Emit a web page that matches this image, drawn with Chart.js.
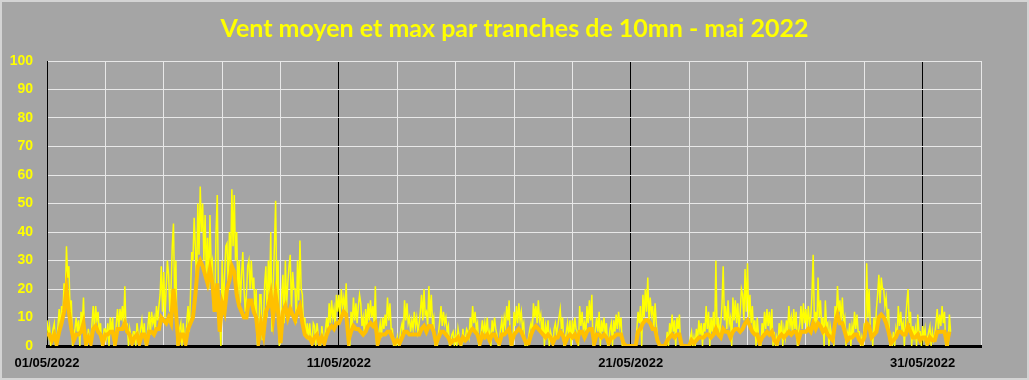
<!DOCTYPE html>
<html>
<head>
<meta charset="utf-8">
<script src="https://cdn.jsdelivr.net/npm/chart.js@4.4.0/dist/chart.umd.min.js"></script>
<style>
html,body{margin:0;padding:0;background:#A5A5A5;}
#wrap{width:1029px;height:380px;position:relative;}
</style>
</head>
<body>
<div id="wrap"><canvas id="c" width="1029" height="380"></canvas></div>
<script>
const chartTitle = "Vent moyen et max par tranches de 10mn - mai 2022";
const xTickLabels = ["01/05/2022", "11/05/2022", "21/05/2022", "31/05/2022"];
const maxPerDay = 24;  // max wind: one reading per hour
const meanPerDay = 12; // mean wind: one reading every 2 hours
// Vent max (one row per day, hourly)
const maxWind = [
  9,4,7,0,3,6,8,0,2,7,13,6,14,10,22,15,35,24,28,12,16,0,3,6,
  10,5,9,0,12,7,17,3,2,0,6,2,1,8,14,6,14,9,12,4,8,0,2,6,
  6,3,8,0,10,5,10,0,2,8,13,6,13,9,14,7,21,5,8,0,6,3,2,5,
  5,0,8,4,2,6,9,3,8,0,2,7,12,4,12,8,10,5,14,9,14,18,28,12,
  26,10,20,30,25,12,20,35,43,15,30,0,2,6,8,0,8,3,1,9,14,5,18,33,
  30,45,35,20,50,32,56,40,50,30,46,25,38,20,46,28,30,12,15,40,53,18,10,0,
  30,14,24,35,36,20,40,28,55,35,53,30,40,18,30,15,25,33,20,12,18,28,30,20,
  30,20,24,12,20,0,3,18,18,2,8,22,28,10,30,18,40,5,20,35,51,16,30,0,
  2,18,25,8,30,14,22,28,32,12,26,20,20,8,30,16,37,20,18,6,10,3,8,2,
  8,3,2,8,7,0,8,4,2,0,7,3,1,6,10,4,15,8,16,10,13,6,18,12,
  18,10,20,14,17,12,22,8,3,0,12,7,17,9,15,8,14,18,15,7,10,4,13,6,
  15,9,16,10,14,8,21,0,2,5,8,3,10,6,11,7,17,9,15,6,6,0,2,0,
  3,0,2,6,8,4,16,9,15,8,10,5,9,6,12,7,10,5,8,12,18,9,20,11,
  12,7,21,10,18,8,10,0,2,0,5,9,14,7,12,8,10,5,7,0,2,4,5,0,
  4,0,6,3,2,0,6,2,3,6,5,3,10,6,14,8,12,6,8,0,2,5,9,4,
  8,4,10,3,5,0,9,5,10,6,4,0,2,6,9,4,10,7,14,9,16,0,3,0,
  12,7,14,8,15,9,12,6,8,0,1,0,3,6,8,4,15,10,14,8,16,9,11,4,
  10,0,7,4,9,0,5,3,1,6,8,4,7,10,13,6,10,0,2,5,8,3,9,0,
  9,4,10,6,5,0,14,7,12,6,8,3,14,8,16,9,18,0,2,6,10,5,12,0,
  9,5,10,4,8,0,2,6,8,0,9,5,11,6,12,7,10,0,2,0,0,0,0,0,
  0,0,0,0,0,6,12,8,14,0,18,10,20,12,24,9,17,11,14,6,15,8,3,0,
  0,0,0,0,0,0,5,0,8,4,11,5,9,0,10,6,11,0,0,0,0,0,0,0,
  0,3,5,0,3,0,6,2,9,4,8,0,8,5,14,6,12,0,10,5,12,4,30,5,
  10,4,8,14,28,9,14,6,16,8,10,0,17,9,16,8,15,6,12,20,18,9,27,12,
  29,10,18,8,14,5,9,0,10,4,2,0,8,4,12,6,13,7,12,5,13,0,5,0,
  3,0,8,4,9,0,6,3,9,5,14,7,10,4,13,6,12,0,5,8,14,6,15,8,
  13,6,14,8,10,18,32,8,12,6,24,10,16,7,10,0,16,7,8,0,7,4,5,0,
  14,9,21,12,16,9,17,8,10,0,5,3,8,0,7,4,12,6,11,5,5,0,3,0,
  8,3,29,10,20,6,5,0,10,4,13,18,25,15,24,20,20,14,17,10,13,0,3,0,
  5,0,6,3,14,7,12,6,8,0,9,15,20,8,12,0,7,3,6,0,11,5,5,0,
  7,3,6,0,3,5,7,0,5,2,4,8,13,6,11,7,14,8,12,0,2,0,11,5
];
// Vent moyen (one row per day, every 2 hours)
const meanWind = [
  4,4,2,4,1,5,8,12,20,12,6,2,
  4,4,5,8,1,3,1,6,7,5,4,1,
  4,4,5,5,1,6,6,6,8,5,4,1,
  3,4,1,4,4,1,5,5,4,6,6,10,
  9,8,10,8,20,12,1,4,4,1,6,8,
  10,18,28,30,28,25,22,27,22,12,22,5,
  15,12,20,23,28,26,18,14,12,10,10,16,
  16,12,10,2,8,4,12,14,18,10,18,12,
  1,12,14,10,13,11,9,12,14,8,4,3,
  3,1,3,4,1,3,1,4,6,7,6,8,
  8,10,12,11,2,5,7,6,6,5,4,5,
  7,8,7,8,1,4,4,4,5,5,3,1,
  2,1,3,5,5,4,4,4,4,4,6,7,
  5,7,7,5,1,3,5,5,4,3,1,2,
  2,3,1,3,2,3,5,6,5,4,1,4,
  3,4,2,4,4,2,1,4,4,5,6,1,
  4,5,6,5,3,1,1,4,6,7,6,5,
  4,3,4,3,1,3,3,5,4,1,3,4,
  3,4,2,5,5,3,5,6,6,1,4,4,
  3,4,3,1,3,3,4,4,4,1,0,0,
  0,0,0,5,6,8,9,9,8,6,6,2,
  0,0,0,2,3,4,3,4,4,0,0,0,
  0,2,1,2,3,3,3,4,4,3,4,6,
  4,3,6,5,5,3,5,6,6,5,6,8,
  9,7,5,4,4,1,3,4,5,4,5,2,
  1,3,4,3,4,5,4,5,5,2,5,5,
  5,6,5,8,6,8,7,5,6,4,3,2,
  8,11,8,8,5,2,3,3,4,4,2,1,
  3,8,7,3,4,5,10,11,10,8,5,1,
  2,3,5,5,4,4,7,5,3,3,4,2,
  3,3,1,3,2,2,5,5,5,5,1,5
];

const toPts = (arr, perDay) => arr.map((v, i) => ({ x: i / perDay, y: v }));

const bgPlugin = {
  id: 'bg',
  beforeDraw(chart) {
    const ctx = chart.ctx;
    ctx.save();
    ctx.fillStyle = '#A5A5A5';
    ctx.fillRect(0, 0, chart.width, chart.height);
    ctx.strokeStyle = '#D4D4D4';
    ctx.lineWidth = 2;
    ctx.strokeRect(1, 1, chart.width - 2, chart.height - 2);
    ctx.restore();
  }
};

new Chart(document.getElementById('c'), {
  type: 'line',
  data: {
    datasets: [
      { label: 'Vent moyen', data: toPts(meanWind, meanPerDay), borderColor: '#FFC000', borderWidth: 4, pointRadius: 0, tension: 0, fill: false, xAxisID: 'x', yAxisID: 'y' },
      { label: 'Vent max', data: toPts(maxWind, maxPerDay), borderColor: '#FFFF00', borderWidth: 1.5, pointRadius: 0, tension: 0, fill: false, xAxisID: 'x', yAxisID: 'y' }
    ]
  },
  options: {
    responsive: false,
    animation: false,
    events: [],
    layout: { padding: 0 },
    plugins: {
      legend: { display: false },
      tooltip: { enabled: false },
      title: {
        display: true,
        text: chartTitle,
        color: '#FFFF00',
        font: { family: 'Lato', size: 25, weight: 'bold' },
        padding: { top: 14, bottom: 17 }
      }
    },
    scales: {
      x: {
        type: 'linear',
        min: 0, max: 32,
        afterFit(s) { s.height = 34; },
        ticks: {
          stepSize: 2,
          autoSkip: false,
          maxRotation: 0,
          padding: 10,
          color: '#000000',
          font: { family: 'Liberation Sans', size: 13, weight: 'bold' },
          callback: v => (v % 10 === 0 && v / 10 < xTickLabels.length) ? xTickLabels[v / 10] : ''
        },
        grid: {
          drawTicks: false,
          color: c => (c.tick && c.tick.value % 10 === 0) ? '#000000' : '#E8E8E8',
          lineWidth: 1
        },
        border: { display: true, color: '#000000', width: 3 }
      },
      y: {
        position: 'left',
        min: 0, max: 100,
        afterFit(s) { s.width = 47; },
        ticks: {
          stepSize: 10,
          padding: 14,
          color: '#FFFF00',
          font: { family: 'Liberation Sans', size: 14, weight: 'bold' }
        },
        grid: {
          drawTicks: false,
          color: c => (c.tick && c.tick.value === 0) ? '#000000' : '#E8E8E8',
          lineWidth: c => (c.tick && c.tick.value === 0) ? 3 : 1
        },
        border: { display: true, color: '#000000', width: 1 }
      },
      yRight: {
        position: 'right',
        min: 0, max: 100,
        afterFit(s) { s.width = 48; },
        ticks: { display: false },
        grid: { display: false, drawTicks: false },
        border: { display: false }
      }
    }
  },
  plugins: [bgPlugin]
});
</script>
</body>
</html>
